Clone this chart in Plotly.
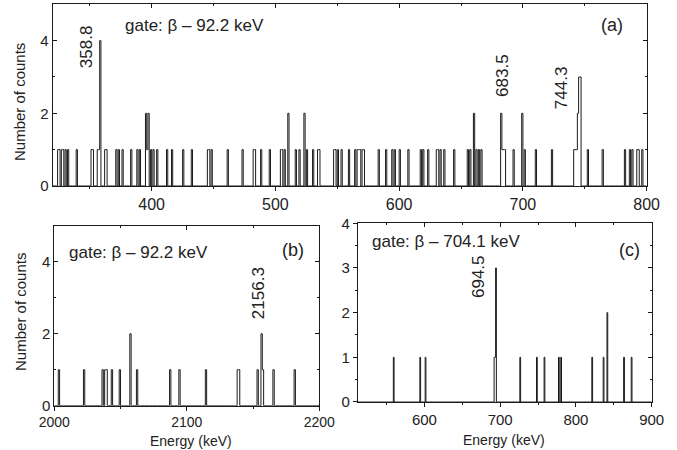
import numpy as np
import plotly.graph_objects as go

FONT = "Liberation Sans, Arial, sans-serif"
INK = "#1a1a1a"

# ---------------- data (energy bin start in keV, counts) ----------------
# Panel (a): gate β – 92.2 keV
a_energy = [324, 325, 327, 328, 330, 332, 339, 351, 352, 356, 357, 358, 362, 363,
            371, 373, 376, 383, 388, 390, 395, 396, 397, 399, 401, 404, 412, 416,
            425, 432, 445, 446, 448, 461, 473, 482, 483, 488, 495, 504, 505, 507,
            510, 516, 519, 523, 525, 530, 534, 535, 547, 548, 550, 553, 559, 564,
            566, 567, 568, 570, 571, 583, 589, 594, 596, 600, 607, 617, 619, 623,
            630, 631, 633, 636, 644, 655, 657, 660, 662, 664, 666, 682, 683, 684,
            685, 692, 699, 701, 710, 723, 741, 742, 743, 744, 745, 746, 752, 764,
            782, 786, 788, 792, 793, 796]
a_counts = [1, 1, 1, 1, 1, 1, 1, 1, 1, 1, 1, 4, 1, 1,
            1, 1, 1, 1, 1, 1, 2, 1, 2, 1, 1, 1, 1, 1,
            1, 1, 1, 1, 1, 1, 1, 1, 1, 1, 1, 1, 1, 1,
            2, 1, 1, 2, 1, 1, 1, 1, 1, 1, 1, 1, 1, 1,
            1, 1, 1, 1, 1, 1, 1, 1, 1, 1, 1, 1, 1, 1,
            1, 1, 1, 1, 1, 1, 1, 2, 1, 1, 1, 2, 1, 1,
            1, 1, 2, 1, 1, 1, 1, 1, 1, 2, 3, 3, 1, 1,
            1, 1, 1, 1, 1, 1]
a_range = [320, 800]
a_peaks = ["358.8", "683.5", "744.3"]

# Panel (b): gate β – 92.2 keV, high-energy part
b_energy = [2003, 2022, 2036, 2038, 2039, 2043, 2049, 2057, 2062, 2087, 2094,
            2114, 2138, 2139, 2153, 2156, 2157, 2165, 2181]
b_counts = [1, 1, 1, 1, 1, 1, 1, 2, 1, 1, 1,
            1, 1, 1, 1, 2, 1, 1, 1]
b_range = [2000, 2200]
b_peaks = ["2156.3"]

# Panel (c): gate β – 704.1 keV
c_energy = [559, 594, 601, 692, 693, 694, 726, 748, 758, 777, 780, 821, 836, 841,
            863, 873]
c_counts = [1, 1, 1, 1, 1, 3, 1, 1, 1, 1, 1, 1, 1, 2,
            1, 1]
c_range = [512, 900]
c_peaks = ["694.5"]


def step_xy(energy, counts, lo, hi, width=1):
    edges = np.arange(lo, hi + width, width)
    h = np.zeros(len(edges) - 1)
    for e, c in zip(energy, counts):
        h[int((e - lo) // width)] += c
    return edges, np.append(h, h[-1])


fig = go.Figure()
for (en, ct, rg, xa, ya) in [(a_energy, a_counts, a_range, "x", "y"),
                             (b_energy, b_counts, b_range, "x2", "y2"),
                             (c_energy, c_counts, c_range, "x3", "y3")]:
    sx, sy = step_xy(en, ct, rg[0], rg[1])
    fig.add_trace(go.Scatter(x=sx, y=sy, mode="lines", line_shape="hv",
                             line=dict(color=INK, width=1), xaxis=xa, yaxis=ya,
                             hoverinfo="skip", showlegend=False))

# dummy traces to anchor the mirror (top / right) axes
for xa, ya in [("x4", "y"), ("x5", "y2"), ("x6", "y3"), ("x", "y4"), ("x2", "y5"), ("x3", "y6")]:
    fig.add_trace(go.Scatter(x=[None], y=[None], xaxis=xa, yaxis=ya,
                             showlegend=False, hoverinfo="skip"))


def ax(domain, rng, dtick, mdtick, ticks, anchor, tsize=15, **kw):
    d = dict(domain=domain, range=rng, anchor=anchor, showline=True, linecolor=INK,
             linewidth=1, showgrid=False, zeroline=False, ticks=ticks, ticklen=4,
             tickwidth=1, tickcolor=INK, dtick=dtick, tick0=0,
             tickfont=dict(family=FONT, size=tsize, color="#222"),
             minor=dict(ticks=ticks, ticklen=2, tickcolor=INK, dtick=mdtick,
                        tick0=0, showgrid=False))
    d.update(kw)
    return d


def mirror(over, rng, dtick, mdtick, anchor, side):
    return dict(overlaying=over, range=rng, anchor=anchor, side=side, showline=True,
                linecolor=INK, linewidth=1, showgrid=False, zeroline=False,
                ticks="inside", ticklen=4, tickwidth=1, tickcolor=INK, dtick=dtick,
                tick0=0, showticklabels=False,
                minor=dict(ticks="inside", ticklen=2, tickcolor=INK, dtick=mdtick,
                           tick0=0, showgrid=False))


dom_a = ([0.0778, 0.9552], [0.5867, 0.9904])
dom_b = ([0.0802, 0.4716], [0.0985, 0.4978])
dom_c = ([0.5284, 0.9626], [0.1067, 0.5038])

fig.update_layout(
    width=677, height=450,
    margin=dict(l=0, r=0, t=0, b=0, autoexpand=False),
    paper_bgcolor="white", plot_bgcolor="white", showlegend=False,
    xaxis=ax(dom_a[0], a_range, 100, 50, "outside", "y", tsize=16),
    yaxis=ax(dom_a[1], [0, 5], 2, 1, "inside", "x"),
    xaxis2=ax(dom_b[0], b_range, 100, 50, "outside", "y2", tsize=14,
              ticklabelstandoff=0),
    yaxis2=ax(dom_b[1], [0, 5], 2, 1, "inside", "x2"),
    xaxis3=ax(dom_c[0], c_range, 100, 50, "outside", "y3", tsize=15,
              ticklabelstandoff=0),
    yaxis3=ax(dom_c[1], [0, 4], 1, 0.5, "outside", "x3"),
    xaxis4=mirror("x", a_range, 100, 50, "y", "top"),
    xaxis5=mirror("x2", b_range, 100, 50, "y2", "top"),
    xaxis6=mirror("x3", c_range, 100, 50, "y3", "top"),
    yaxis4=mirror("y", [0, 5], 2, 1, "x", "right"),
    yaxis5=mirror("y2", [0, 5], 2, 1, "x2", "right"),
    yaxis6=mirror("y3", [0, 4], 1, 0.5, "x3", "right"),
)

ann = []
tf = dict(family=FONT, size=17, color="#222")
atf = dict(family=FONT, size=15, color="#222")
btf = dict(family=FONT, size=14, color="#222")
# axis titles
ann.append(dict(text="Number of counts", x=0.0281, y=0.7733, textangle=-90, font=atf))
ann.append(dict(text="Number of counts", x=0.0310, y=0.3067, textangle=-90, font=atf))
ann.append(dict(text="Energy (keV)", x=0.2821, y=0.0211, font=btf))
ann.append(dict(text="Energy (keV)", x=0.7445, y=0.0222, font=btf))
# gate texts
ann.append(dict(text="gate: β – 92.2 keV", x=0.1817, y=0.9444, xanchor="left", font=tf))
ann.append(dict(text="gate: β – 92.2 keV", x=0.0985, y=0.4378, xanchor="left", font=tf))
ann.append(dict(text="gate: β – 704.1 keV", x=0.5465, y=0.4644, xanchor="left", font=tf))
# panel labels
ann.append(dict(text="(a)", x=0.9035, y=0.9444, font=dict(family=FONT, size=18, color="#222")))
ann.append(dict(text="(b)", x=0.4335, y=0.4444, font=dict(family=FONT, size=18, color="#222")))
ann.append(dict(text="(c)", x=0.9298, y=0.4444, font=dict(family=FONT, size=18, color="#222")))
for a in ann:
    a.update(xref="paper", yref="paper", showarrow=False)
    a.setdefault("xanchor", "center")
    a.setdefault("yanchor", "middle")

# peak labels (rotated), positioned in data coordinates
peak_pos = {"358.8": ("x", "y", 347.5, 3.84), "683.5": ("x", "y", 683.9, 3.03),
            "744.3": ("x", "y", 731.3, 2.71), "2156.3": ("x2", "y2", 2153.7, 3.13),
            "694.5": ("x3", "y3", 672.2, 2.80)}
for lab in a_peaks + b_peaks + c_peaks:
    xr, yr, px, py = peak_pos[lab]
    ann.append(dict(text=lab, x=px, y=py, xref=xr, yref=yr, textangle=-90,
                    showarrow=False, font=tf, xanchor="center", yanchor="middle"))

fig.update_layout(annotations=ann)
fig.write_html("out.html", config={"displayModeBar": False},
               post_script="document.body.style.margin='0';")
